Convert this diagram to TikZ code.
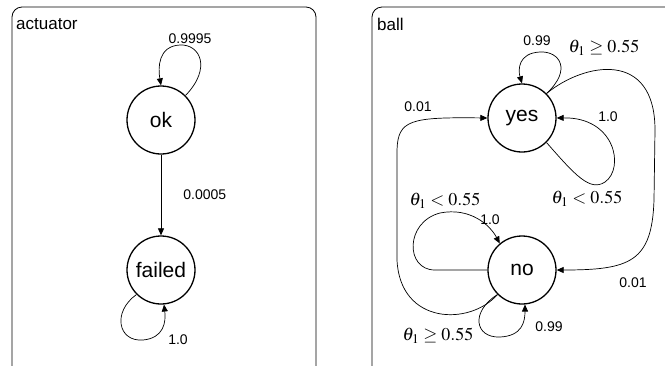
\documentclass[tikz,border=0pt]{standalone}
\usepackage{mathptmx}
\usepackage{fontspec}
\setmainfont{Liberation Sans}
\usetikzlibrary{arrows.meta}

\begin{document}
\begin{tikzpicture}[x=1pt, y=-1pt,
        state/.style={draw, circle, line width=1.3pt, minimum size=68pt, inner sep=0pt, font=\fontsize{21}{24}\selectfont},
        edge/.style={line width=0.7pt, -{Triangle[length=7pt,width=6pt]}},
        prob/.style={inner sep=0pt, font=\fontsize{14}{16}\selectfont},
        cond/.style={inner sep=0pt, font=\fontsize{18}{20}\selectfont},
        panel/.style={draw, line width=0.8pt, rounded corners=10pt},
        title/.style={anchor=west, inner sep=0pt, font=\fontsize{17}{20}\selectfont}]
        \useasboundingbox (0, 0) rectangle (665, 365);
        \clip (0, 0) rectangle (665, 365);

        % actuator
        \draw[panel] (12, 7) rectangle (316, 380);
        \node[title] at (16, 24) (actuator) {actuator};
        \node[state] at (161, 120) (ok) {ok};
        \node[state] at (161, 270) (failed) {failed};
        \draw [edge] (ok.45) .. controls (212, 68) and (200, 44) .. (180, 45) .. controls (158, 46) and (158, 68) .. (ok.north);
        \draw [edge] (ok) -- (failed) node[prob, midway, right=22pt] (p-okfailed) {0.0005};
        \draw [edge] (failed.225) .. controls (112, 312) and (118, 342) .. (143, 340) .. controls (164, 338) and (166, 322) .. (failed.275);
        \node[prob] at (190, 39) (p-okok) {0.9995};
        \node[prob] at (178, 340) (p-failedfailed) {1.0};

        % ball
        \draw[panel] (372, 7) rectangle (700, 380);
        \node[title] at (377, 24) (ball) {ball};
        \node[state] at (522, 118) (yes) {yes};
        \node[state] at (522, 270) (no) {no};
        \draw [edge] (yes.45) .. controls (572, 70) and (560, 51) .. (540, 52) .. controls (518, 53) and (518, 70) .. (yes.north);
        \draw [edge] (yes.45) .. controls (585, 62) and (655, 50) .. (655, 130) -- (654, 200) .. controls (652, 262) and (630, 270) .. (no.east);
        \draw [edge] (yes.-45) .. controls (575, 175) and (590, 192) .. (605, 182) .. controls (625, 168) and (615, 117) .. (yes.east);
        \draw [edge] (no.225) .. controls (470, 326) and (400, 325) .. (397, 260) -- (397, 150) .. controls (398, 120) and (410, 117) .. (yes.west);
        \draw [edge] (no.west) -- (435, 270) .. controls (405, 270) and (405, 222) .. (440, 213) .. controls (470, 207) and (490, 225) .. (no.130);
        \draw [edge] (no.225) .. controls (470, 312) and (475, 338) .. (500, 337) .. controls (522, 336) and (525, 322) .. (no.275);
        \node[prob] at (537, 41) (p-yesyes) {0.99};
        \node[cond] at (604, 48) (c-yesno) {$\theta_1 \geq 0.55$};
        \node[prob] at (418, 107) (p-noyes) {0.01};
        \node[prob] at (608, 117) (p-yesloop) {1.0};
        \node[cond] at (587, 199) (c-yesloop) {$\theta_1 < 0.55$};
        \node[cond] at (445, 201) (c-noloop) {$\theta_1 < 0.55$};
        \node[prob] at (490, 220) (p-noloop) {1.0};
        \node[prob] at (633, 283) (p-yesno) {0.01};
        \node[prob] at (549, 327) (p-nono) {0.99};
        \node[cond] at (438, 336) (c-noyes) {$\theta_1 \geq 0.55$};
    \end{tikzpicture}
\end{document}
